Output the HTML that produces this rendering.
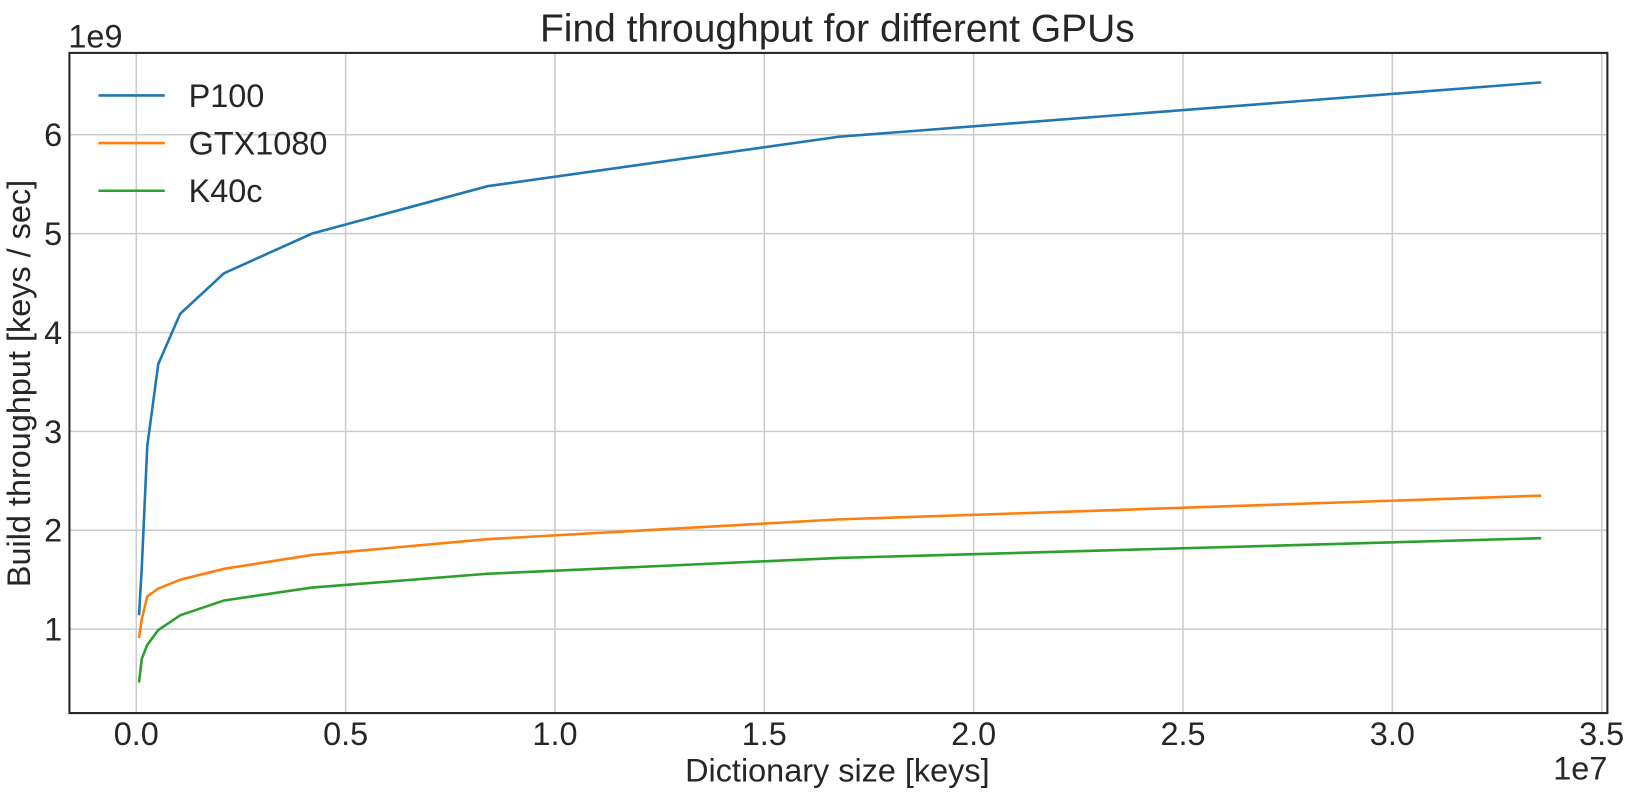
<!DOCTYPE html>
<html><head><meta charset="utf-8"><style>
body{margin:0;background:#fff;}
svg text{font-family:"Liberation Sans",sans-serif;fill:#262626;}
</style></head><body>
<svg id="chart" width="1625" height="795" viewBox="0 0 1568 767">
<text x="808" y="40" font-size="37.6" text-anchor="middle">Find throughput for different GPUs</text>
<g id="grid"></g><g id="series"></g>
<rect x="67" y="51" width="1484" height="637" fill="none" stroke="#262626" stroke-width="2"/>
<g id="ticks"></g>
<text x="66" y="46" font-size="31.3">1e9</text>
<text x="1551" y="752" font-size="31.3" text-anchor="end">1e7</text>
<text x="808" y="754" font-size="31.3" text-anchor="middle">Dictionary size [keys]</text>
<text transform="translate(29,370) rotate(-90)" font-size="31.3" text-anchor="middle">Build throughput [keys / sec]</text>
<g id="legend"></g>
</svg>
<script>
const sizes=[65536,131072,262144,524288,1048576,2097152,4194304,8388608,16777216,33554432];
const p100=[1.14,1.62,2.85,3.68,4.19,4.6,5.0,5.48,5.98,6.53];
const gtx1080=[0.91,1.1,1.33,1.41,1.5,1.61,1.75,1.91,2.11,2.35];
const k40c=[0.46,0.7,0.84,0.99,1.14,1.29,1.42,1.56,1.72,1.92];
const xTicks=[0,0.5,1.0,1.5,2.0,2.5,3.0,3.5];
const xTickLabels=["0.0","0.5","1.0","1.5","2.0","2.5","3.0","3.5"];
const yTicks=[1,2,3,4,5,6];
const names=["P100","GTX1080","K40c"];
const colors=["#1f77b4","#ff7f0e","#2ca02c"];
const NS="http://www.w3.org/2000/svg";
const X=v=>131.5+v*40.4e-6;
const Y=v=>702.4-v*95.4;
function mk(t,a,p){const e=document.createElementNS(NS,t);for(const k in a)e.setAttribute(k,a[k]);p.appendChild(e);return e;}
const grid=document.getElementById('grid'),ticks=document.getElementById('ticks');
xTicks.forEach((t,i)=>{const x=X(t*1e7);
 if(x<1551){const l=mk('line',{x1:x,x2:x,y1:51,y2:688,stroke:'#cccccc','stroke-width':1.5},grid);
 
 }
 const tx=mk('text',{x:x,y:719,'font-size':31.3,'text-anchor':'middle'},ticks);tx.textContent=xTickLabels[i];
 
 });
yTicks.forEach(t=>{const y=Y(t);
 const l=mk('line',{x1:67,x2:1551,y1:y,y2:y,stroke:'#cccccc','stroke-width':1.5},grid);
 
 
 const tx=mk('text',{x:60,y:y+11,'font-size':31.3,'text-anchor':'end'},ticks);tx.textContent=t;
 
 });
const ser=document.getElementById('series'),leg=document.getElementById('legend');
[p100,gtx1080,k40c].forEach((d,i)=>{
 const pts=d.map((v,j)=>X(sizes[j])+','+Y(v)).join(' ');
 const pl=mk('polyline',{points:pts,fill:'none',stroke:colors[i],'stroke-width':2.5},ser);
 
 
 const ly=92+i*46;
 const ll=mk('line',{x1:95,x2:159,y1:ly,y2:ly,stroke:colors[i],'stroke-width':2.5},leg);
 
 
 const lt=mk('text',{x:182,y:ly+11,'font-size':31.3},leg);lt.textContent=names[i];
 
 });
</script>
</body></html>
